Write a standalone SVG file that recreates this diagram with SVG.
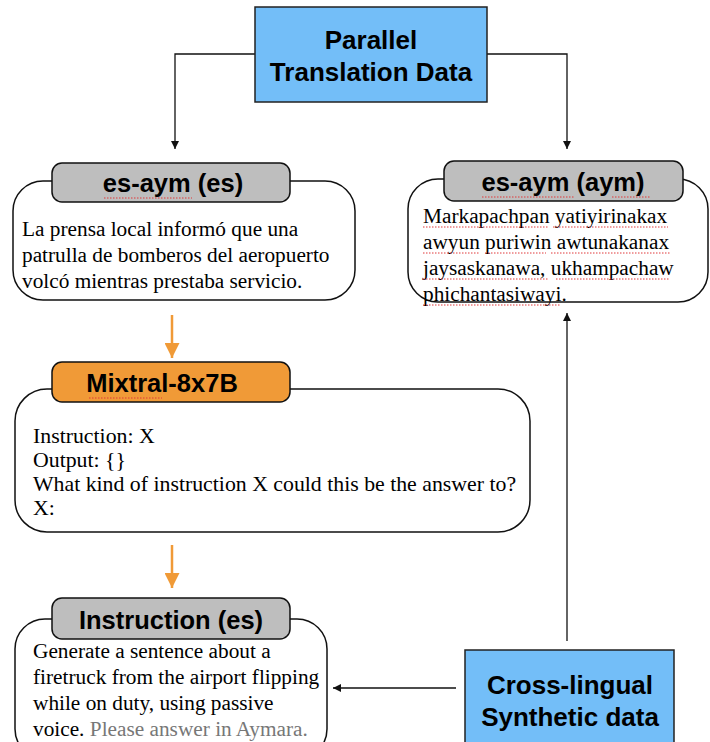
<svg xmlns="http://www.w3.org/2000/svg" width="710" height="742" viewBox="0 0 710 742">
<defs>
<marker id="ah" viewBox="0 0 10 10" refX="10" refY="5" markerWidth="8" markerHeight="8" markerUnits="userSpaceOnUse" orient="auto"><path d="M0,0 L10,5 L0,10 z" fill="#111"/></marker>
<marker id="ao" viewBox="0 0 10 10" refX="10" refY="5" markerWidth="15" markerHeight="15" markerUnits="userSpaceOnUse" orient="auto"><path d="M0,0 L10,5 L0,10 z" fill="#F09A37"/></marker>
<style>
.blue{fill:#73BEF8;stroke:#222;stroke-width:1.5}
.body{fill:#fff;stroke:#111;stroke-width:1.5}
.hdr{fill:#BEBEBE;stroke:#111;stroke-width:1.5}
.hdro{fill:#F09A37;stroke:#111;stroke-width:1.5}
.bt{font-family:"Liberation Sans",Arial,sans-serif;font-weight:bold;font-size:26px;fill:#000;text-anchor:middle}
.ht{font-family:"Liberation Sans",Arial,sans-serif;font-weight:bold;font-size:25.5px;fill:#000;text-anchor:middle}
.st{font-family:"Liberation Serif","Times New Roman",serif;font-size:21.3px;fill:#000}
.st2{font-family:"Liberation Serif","Times New Roman",serif;font-size:21.8px;fill:#000}
.gray{fill:#777}
.blk{fill:none;stroke:#111;stroke-width:1.3}
.org{fill:none;stroke:#F09A37;stroke-width:2.5}
.sp{fill:none;stroke:#E0383A;stroke-width:1;stroke-dasharray:1.5,1.5}
</style>
</defs>

<g id="connectors">
<path class="blk" d="M255,54 H175 V149" marker-end="url(#ah)"/>
<path class="blk" d="M487,54 H567 V149" marker-end="url(#ah)"/>
<path class="org" d="M172,315 V358" marker-end="url(#ao)"/>
<path class="org" d="M172,545 V588" marker-end="url(#ao)"/>
<path class="blk" d="M567,641 V313" marker-end="url(#ah)"/>
<path class="blk" d="M456,688 H333" marker-end="url(#ah)"/>
</g>

<g id="parallel">
<rect class="blue" x="255" y="7" width="232" height="95"/>
<text class="bt" x="371" y="49">Parallel</text>
<text class="bt" x="371" y="81">Translation Data</text>
</g>

<g id="es-node">
<rect class="body" x="13" y="181" width="342" height="119" rx="30"/>
<rect class="hdr" x="52" y="163" width="238" height="39" rx="10"/>
<text class="ht" x="173" y="192">es-aym (es)</text>
<path class="sp" d="M104,198 H192"/>
<text class="st" x="22" y="236">La prensa local informó que una</text>
<text class="st" x="22" y="262">patrulla de bomberos del aeropuerto</text>
<text class="st" x="22" y="288">volcó mientras prestaba servicio.</text>
</g>

<g id="aym-node">
<rect class="body" x="408" y="179" width="300" height="123" rx="30"/>
<rect class="hdr" x="444" y="161" width="239" height="40" rx="10"/>
<text class="ht" x="563" y="191">es-aym (aym)</text>
<path class="sp" d="M482,197 H575 M612,197 H650"/>
<text class="st" x="423" y="223">Markapachpan yatiyirinakax</text>
<text class="st" x="423" y="249">awyun puriwin awtunakanax</text>
<text class="st" x="423" y="275">jaysaskanawa, ukhampachaw</text>
<text class="st" x="423" y="301">phichantasiwayi.</text>
<path class="sp" d="M423,227 H548 M553,227 H668 M423,253 H480 M485,253 H546 M551,253 H670 M423,279 H548 M556,279 H670 M423,305 H560"/>
</g>

<g id="mixtral">
<rect class="body" x="15" y="389" width="515" height="143" rx="32"/>
<rect class="hdro" x="52" y="362" width="238" height="40" rx="10"/>
<text class="ht" x="162" y="392">Mixtral-8x7B</text>
<path class="sp" d="M89,398 H162"/>
<text class="st2" x="33" y="443">Instruction: X</text>
<text class="st2" x="33" y="467">Output: {}</text>
<text class="st2" x="33" y="491">What kind of instruction X could this be the answer to?</text>
<text class="st2" x="33" y="515">X:</text>
</g>

<g id="instruction">
<rect class="body" x="15" y="619" width="312" height="140" rx="30"/>
<rect class="hdr" x="52" y="598" width="238" height="41" rx="10"/>
<text class="ht" x="171" y="629">Instruction (es)</text>
<text class="st" x="33" y="658">Generate a sentence about a</text>
<text class="st" x="33" y="684">firetruck from the airport flipping</text>
<text class="st" x="33" y="710">while on duty, using passive</text>
<text class="st" x="33" y="736">voice. <tspan class="gray">Please answer in Aymara.</tspan></text>
</g>

<g id="crosslingual">
<rect class="blue" x="465" y="650" width="209" height="100"/>
<text class="bt" x="570" y="694">Cross-lingual</text>
<text class="bt" x="570" y="726">Synthetic data</text>
</g>
</svg>
